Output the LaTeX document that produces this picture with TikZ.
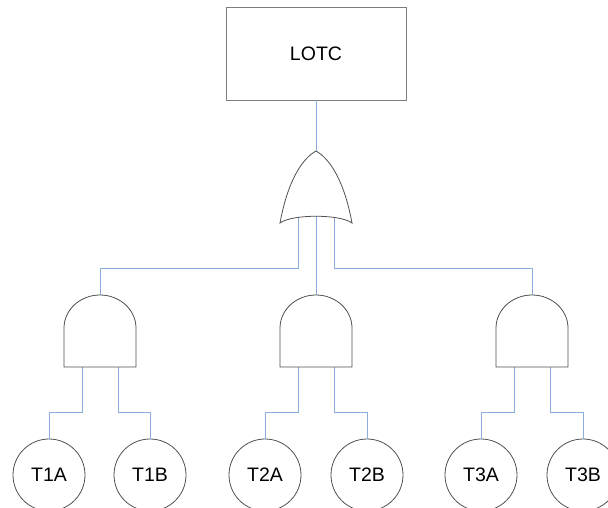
\documentclass[tikz,border=0pt]{standalone}
\usepackage{fontspec}
\setmainfont{Liberation Sans}
\definecolor{wireblue}{RGB}{140,172,224}
\definecolor{gatedark}{RGB}{80,80,80}
\definecolor{boxgray}{RGB}{125,125,125}

\begin{document}
\begin{tikzpicture}[x=1pt,y=-1pt,
    wire/.style={draw=wireblue,line width=0.9pt},
    gate/.style={draw=gatedark,fill=white,line width=0.8pt},
    topbox/.style={draw=boxgray,line width=0.9pt,minimum width=180pt,minimum height=93pt,
      inner sep=0pt,font=\fontsize{19.5}{23}\selectfont},
    basic/.style={draw=gatedark,line width=0.8pt,circle,minimum size=72pt,inner sep=0pt,
      font=\fontsize{19.5}{23}\selectfont}]
    \useasboundingbox (0,0) rectangle (608,508);

    % top event
    \node[topbox] (lotc) at (316,53.5) {LOTC};

    % OR gate
    \coordinate (orout) at (316,151);
    \coordinate (orinL) at (298,215);
    \coordinate (orinM) at (316,215);
    \coordinate (orinR) at (334,215);

    % AND gates
    \coordinate (and1out) at (100,295);
    \coordinate (and1inL) at (82,367);
    \coordinate (and1inR) at (118,367);
    \coordinate (and2out) at (316,295);
    \coordinate (and2inL) at (298,367);
    \coordinate (and2inR) at (334,367);
    \coordinate (and3out) at (532,295);
    \coordinate (and3inL) at (514,367);
    \coordinate (and3inR) at (550,367);

    % basic events
    \node[basic] (t1a) at (49,475) {T1A};
    \node[basic] (t1b) at (150,475) {T1B};
    \node[basic] (t2a) at (265,475) {T2A};
    \node[basic] (t2b) at (367,475) {T2B};
    \node[basic] (t3a) at (481,475) {T3A};
    \node[basic] (t3b) at (583,475) {T3B};

    \draw[wire] (lotc.south) -- (orout);
    \draw[wire] (orinL) -- ++(0,53) -| (and1out);
    \draw[wire] (orinM) -- (and2out);
    \draw[wire] (orinR) -- ++(0,53) -| (and3out);

    \draw[wire] (and1inL) -- ++(0,45) -| (t1a.north);
    \draw[wire] (and1inR) -- ++(0,45) -| (t1b.north);
    \draw[wire] (and2inL) -- ++(0,45) -| (t2a.north);
    \draw[wire] (and2inR) -- ++(0,45) -| (t2b.north);
    \draw[wire] (and3inL) -- ++(0,45) -| (t3a.north);
    \draw[wire] (and3inR) -- ++(0,45) -| (t3b.north);

    \draw[gate] (280,223) .. controls (287,185) and (300,160) .. (orout)
      .. controls (332,160) and (345,185) .. (352,223)
      .. controls (340,214) and (292,214) .. cycle;

    \draw[gate] (64,367) -- (64,328) .. controls (64,310) and (80,295) .. (and1out)
      .. controls (120,295) and (136,310) .. (136,328) -- (136,367) -- cycle;
    \draw[gate] (280,367) -- (280,328) .. controls (280,310) and (296,295) .. (and2out)
      .. controls (336,295) and (352,310) .. (352,328) -- (352,367) -- cycle;
    \draw[gate] (496,367) -- (496,328) .. controls (496,310) and (512,295) .. (and3out)
      .. controls (552,295) and (568,310) .. (568,328) -- (568,367) -- cycle;
  \end{tikzpicture}
\end{document}
